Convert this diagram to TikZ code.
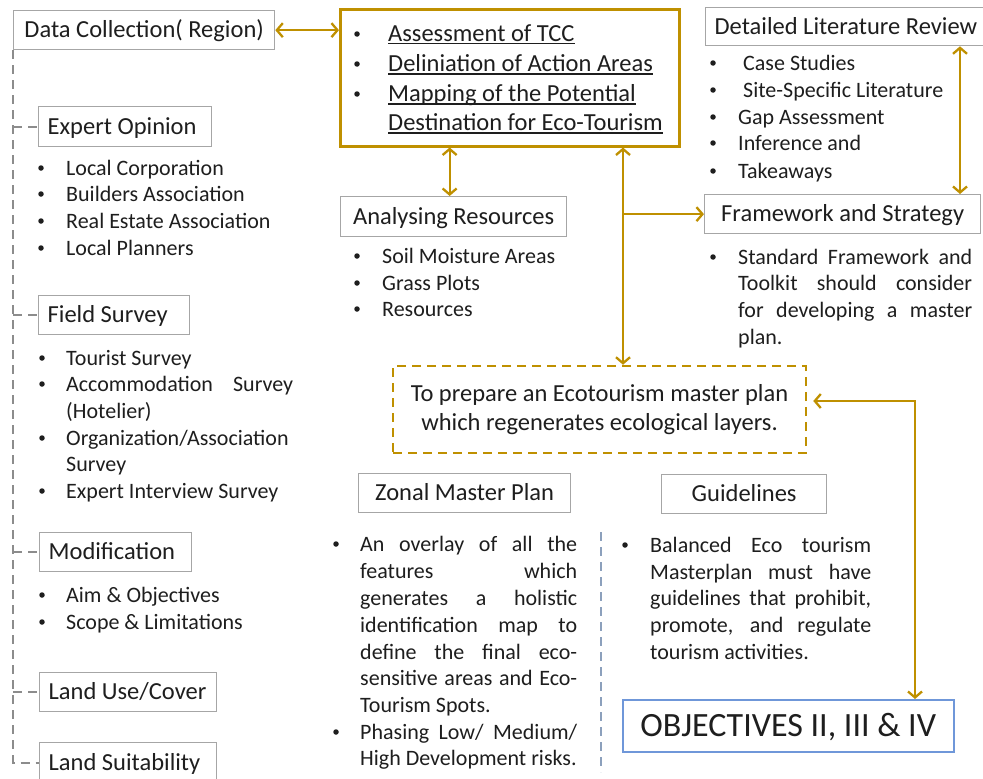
\documentclass[tikz,border=0pt]{standalone}
\usepackage{fontspec}
\setmainfont{Carlito}
\usetikzlibrary{arrows.meta}
\definecolor{gold}{HTML}{BF9000}
\definecolor{boxgray}{HTML}{A6A6A6}
\definecolor{dashgray}{HTML}{8C8C8C}
\definecolor{objblue}{HTML}{6F97D9}
\definecolor{sepblue}{HTML}{8CA0BC}
\definecolor{ink}{HTML}{1E1E1E}
\newcommand\myul[1]{\setbox0=\hbox{#1}\rlap{\rule[-3.5pt]{\wd0}{1.3pt}}\box0}
\newcommand\bpt[2]{\node[dot] (#1) at ([yshift=7pt]#2) {};}
\newcommand\tline[3]{\node[body,anchor=base west] (#1) at (#2) {#3};}
\newcommand\jline[4]{\node[body,anchor=base west] (#1) at (#2) {\makebox[#3][s]{#4}};}
\begin{document}
\begin{tikzpicture}[x=1pt,y=-1pt,
  body/.style={font=\fontsize{22}{26}\selectfont, text=ink, inner sep=0pt},
  dot/.style={circle, fill=ink, minimum size=5.5pt, inner sep=0pt},
  ttl/.style={font=\fontsize{24.5}{29}\selectfont, text=ink},
  gbox/.style={draw=boxgray, line width=1.3pt, ttl, anchor=north west, inner ysep=0pt, inner xsep=9pt, text height=20pt, text depth=5pt},
  garrow/.style={draw=gold, line width=2.3pt, >={Straight Barb[length=6pt,width=14pt]}},
  tree/.style={draw=dashgray, line width=1.8pt, dash pattern=on 9pt off 6pt},
  sep/.style={draw=sepblue, line width=1.8pt, dash pattern=on 9pt off 6pt}]
\useasboundingbox (0,0) rectangle (983,779);
\fill[white] (0,0) rectangle (983,779);

% ---------- boxes ----------
\node[gbox, minimum width=261pt, minimum height=39pt] (dc) at (13,10) {Data Collection( Region)};
\node[gbox, minimum width=173pt, minimum height=40pt] (eo) at (38,106) {\makebox[155pt][l]{Expert Opinion}};
\node[gbox, minimum width=151pt, minimum height=39pt] (fs) at (38,295) {\makebox[133pt][l]{Field Survey}};
\node[gbox, minimum width=152pt, minimum height=39pt] (mod) at (39,532) {\makebox[134pt][l]{Modification}};
\node[gbox, minimum width=177pt, minimum height=39pt] (luc) at (39,672) {\makebox[159pt][l]{Land Use/Cover}};
\node[gbox, minimum width=177pt, minimum height=40pt] (ls) at (39,742) {\makebox[159pt][l]{Land Suitability}};
\node[gbox, minimum width=275pt, minimum height=38pt] (dlr) at (705,7) {Detailed Literature Review};
\node[gbox, minimum width=276pt, minimum height=39pt] (fw) at (704,194) {Framework and Strategy};
\node[gbox, minimum width=226pt, minimum height=40pt] (ar) at (340,196) {Analysing Resources};
\node[gbox, minimum width=212pt, minimum height=39pt] (zmp) at (358,473) {Zonal Master Plan};
\node[gbox, minimum width=165pt, minimum height=39pt] (gl) at (661,474) {Guidelines};
\node[draw=gold, line width=2.5pt, minimum width=339pt, minimum height=137pt, anchor=north west, inner sep=0pt] (cb) at (339,8) {};
\node[draw=gold, line width=2.5pt, dash pattern=on 9pt off 6pt, minimum width=413pt, minimum height=87pt, align=center, ttl, inner sep=0pt] (goal) at (599.5,409.5) {To prepare an Ecotourism master plan\\which regenerates ecological layers.};
\node[draw=objblue, line width=1.5pt, minimum width=331pt, minimum height=52pt, anchor=north west, font=\fontsize{34}{40}\selectfont, text=ink, text height=29pt, text depth=7pt, inner ysep=0pt] (obj) at (622,699) {OBJECTIVES II, III \& IV};

% ---------- central box text ----------
\begin{scope}[body/.append style={font=\fontsize{24.5}{29}\selectfont}]
\bpt{c1b}{357,41}\tline{c1}{388,41}{\myul{Assessment of TCC}}
\bpt{c2b}{357,71}\tline{c2}{388,71}{\myul{Deliniation of Action Areas}}
\bpt{c3b}{357,101}\tline{c3}{388,101}{\myul{Mapping of the Potential}}
\tline{c4}{388,130}{\myul{Destination for Eco-Tourism}}
\end{scope}

% ---------- literature review list ----------
\bpt{d1b}{713,70}\tline{d1}{743,70}{Case Studies}
\bpt{d2b}{713,97}\tline{d2}{743,97}{Site-Specific Literature}
\bpt{d3b}{713,124}\tline{d3}{738,124}{Gap Assessment}
\bpt{d4b}{713,150}\tline{d4}{738,150}{Inference and}
\bpt{d5b}{713,178}\tline{d5}{738,178}{Takeaways}

% ---------- framework paragraph ----------
\bpt{f1b}{713,264}
\jline{f1}{738,264}{234pt}{Standard Framework and}
\jline{f2}{738,290}{234pt}{Toolkit should consider}
\jline{f3}{738,317}{234pt}{for developing a master}
\tline{f4}{738,344}{plan.}

% ---------- analysing resources ----------
\bpt{a1b}{357,263}\tline{a1}{382,263}{Soil Moisture Areas}
\bpt{a2b}{357,290}\tline{a2}{382,290}{Grass Plots}
\bpt{a3b}{357,316}\tline{a3}{382,316}{Resources}

% ---------- expert opinion ----------
\bpt{e1b}{41,175}\tline{e1}{66,175}{Local Corporation}
\bpt{e2b}{41,201}\tline{e2}{66,201}{Builders Association}
\bpt{e3b}{41,228}\tline{e3}{66,228}{Real Estate Association}
\bpt{e4b}{41,255}\tline{e4}{66,255}{Local Planners}

% ---------- field survey ----------
\bpt{s1b}{42,365}\tline{s1}{66,365}{Tourist Survey}
\bpt{s2b}{42,391}\jline{s2}{66,391}{227pt}{Accommodation Survey}
\tline{s3}{66,418}{(Hotelier)}
\bpt{s4b}{42,445}\tline{s4}{66,445}{Organization/Association}
\tline{s5}{66,471}{Survey}
\bpt{s6b}{42,498}\tline{s6}{66,498}{Expert Interview Survey}

% ---------- modification ----------
\bpt{m1b}{42,602}\tline{m1}{66,602}{Aim \& Objectives}
\bpt{m2b}{42,629}\tline{m2}{66,629}{Scope \& Limitations}

% ---------- zonal master plan ----------
\bpt{z1b}{336,551}
\jline{z1}{360,551}{217pt}{An overlay of all the}
\jline{z2}{360,578}{217pt}{features which}
\jline{z3}{360,605}{217pt}{generates a holistic}
\jline{z4}{360,632}{217pt}{identification map to}
\jline{z5}{360,659}{217pt}{define the final eco-}
\jline{z6}{360,685}{217pt}{sensitive areas and Eco-}
\tline{z7}{360,712}{Tourism Spots.}
\bpt{z8b}{336,739}
\jline{z8}{360,739}{217pt}{Phasing Low/ Medium/}
\tline{z9}{360,765}{High Development risks.}

% ---------- guidelines ----------
\bpt{g1b}{625,552}
\jline{g1}{650,552}{221pt}{Balanced Eco tourism}
\jline{g2}{650,579}{221pt}{Masterplan must have}
\jline{g3}{650,605}{221pt}{guidelines that prohibit,}
\jline{g4}{650,632}{221pt}{promote, and regulate}
\tline{g5}{650,659}{tourism activities.}

% ---------- connectors ----------
\coordinate (vx) at (623,0);
\coordinate (rx) at (960,0);
\coordinate (lx) at (915,401);
\coordinate (sp1) at (601,532);
\coordinate (sp2) at (601,772);
\draw[garrow,<->] (dc.east) -- (dc.east -| cb.west);
\draw[garrow,<->] ([xshift=-4pt]ar.north |- cb.south) -- ([xshift=-4pt]ar.north);
\draw[garrow,<->] (cb.south -| vx) -- (goal.north -| vx);
\draw[garrow,->] (vx |- fw.west) -- (fw.west);
\draw[garrow,<->] (dlr.south -| rx) -- (fw.north -| rx);
\draw[garrow,<->] ([xshift=6pt]goal.east |- lx) -- (lx) -- (lx |- obj.north);

\draw[tree] (dc.south west) -- (dc.south west |- ls.west) -- (ls.west);
\draw[tree] (dc.south west |- eo.west) -- (eo.west);
\draw[tree] (dc.south west |- fs.west) -- (fs.west);
\draw[tree] (dc.south west |- mod.west) -- (mod.west);
\draw[tree] (dc.south west |- luc.west) -- (luc.west);
\draw[sep] (sp1) -- (sp2);
\end{tikzpicture}
\end{document}
